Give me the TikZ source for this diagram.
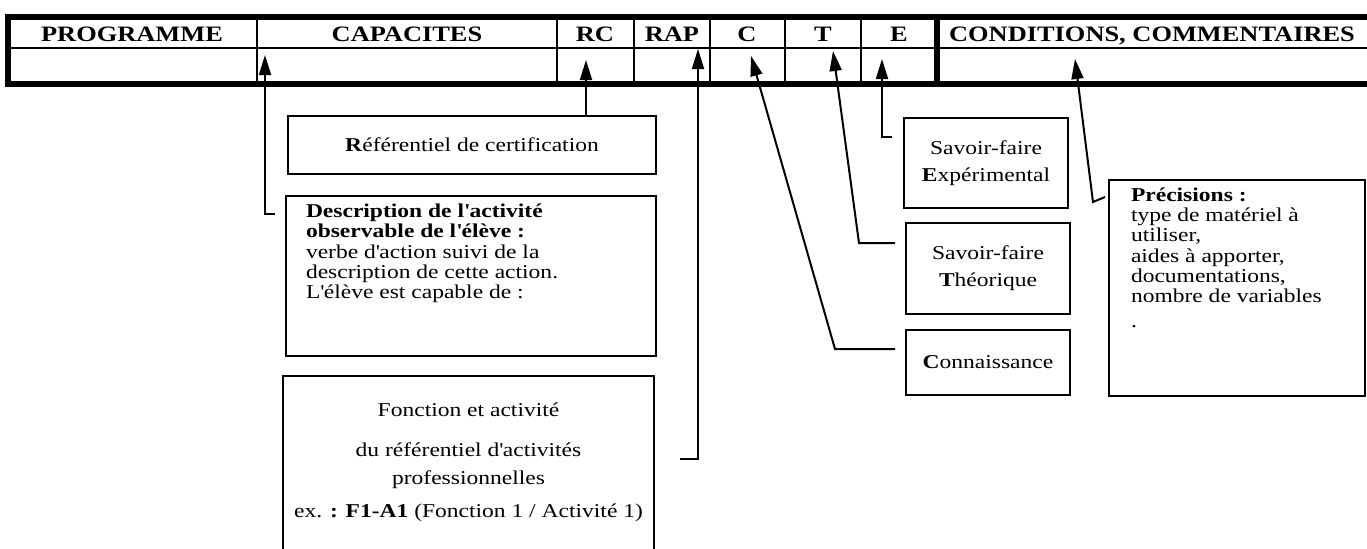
\documentclass[tikz,border=0pt]{standalone}
\usepackage{fontspec}
\setmainfont{Liberation Serif}[FakeStretch=1.2]
\usetikzlibrary{arrows.meta,calc}
\newcommand{\apo}{\textquotesingle}
\newcommand{\bodysize}{\fontsize{9.8}{10.15}\selectfont\lineskiplimit=-5pt}

\begin{document}
\begin{tikzpicture}[x=0.5pt,y=-0.5pt,>={Triangle[length=10pt,width=6pt]}]
    \tikzstyle{box}=[draw,line width=1pt,inner sep=0pt,font=\bodysize]
    \tikzstyle{two lines}=[box,align=center,font=\fontsize{9.8}{13.5}\selectfont]
    \tikzstyle{head}=[anchor=base,font=\fontsize{11}{12}\selectfont\bfseries]
    \tikzstyle{link}=[->,line width=1pt]
    \tikzstyle{rule}=[line width=1pt]
    \tikzstyle{heavy rule}=[line width=3pt]
    \useasboundingbox (0,0) rectangle (1367,548);
    % The table header
    \draw[heavy rule] (5,17) -- (1367,17);
    \draw[rule] (8,48) -- (1367,48);
    \draw[heavy rule] (5,84) -- (1367,84);
    \draw[heavy rule] (8,17) -- (8,84);
    \foreach \x in {257,557,634,710,785,861}
        \draw[rule] (\x,17) -- (\x,84);
    \draw[heavy rule] (937,17) -- (937,84);
    \foreach \name/\x/\lbl in {hProg/132/PROGRAMME,hCap/407/CAPACITES,hRc/595/RC,hRap/672/RAP,
        hC/747/C,hT/823/T,hE/899/E,hCond/1152/{CONDITIONS, COMMENTAIRES}}
        \node[head] (\name) at (\x,41) {\lbl};
    % The explanation boxes
    \node[box,anchor=north west,minimum width=184pt,minimum height=29pt] (refCert) at (287,115)
        {\textbf{R}éférentiel de certification};
    \node[box,anchor=north west,inner xsep=10pt] (descAct) at (285,195)
        {\begin{minipage}[t][80pt][t]{165pt}\bodysize\vspace*{4pt}%
        \textbf{Description de l\apo activité}\\
        \textbf{observable de l\apo élève :}\\
        verbe d\apo action suivi de la\\
        description de cette action.\\
        L\apo élève est capable de :\end{minipage}};
    \node[box,anchor=north west] (foncAct) at (282,375)
        {\begin{minipage}[t][95pt][t]{185.5pt}\centering\fontsize{9.8}{14}\selectfont\vspace*{13.2pt}%
        Fonction et activité\\[6pt]
        du référentiel d\apo activités\\
        professionnelles\\[2.5pt]
        ex. \textbf{: F1-A1} (Fonction 1 / Activité 1)\end{minipage}};
    \node[two lines,anchor=north west,minimum width=82pt,minimum height=45pt] (savExp) at (903,117)
        {Savoir-faire\\\textbf{E}xpérimental};
    \node[two lines,anchor=north west,minimum width=82pt,minimum height=45.5pt] (savTheo) at (905,222)
        {Savoir-faire\\\textbf{T}héorique};
    \node[box,anchor=north west,minimum width=82pt,minimum height=32.5pt] (connais) at (905,329)
        {\textbf{C}onnaissance};
    \node[box,anchor=north west,inner xsep=11pt] (precis) at (1108,179)
        {\begin{minipage}[t][108pt][t]{106pt}\bodysize\vspace*{3.8pt}%
        \textbf{Précisions :}\\
        type de matériel à\\
        utiliser,\\
        aides à apporter,\\
        documentations,\\
        nombre de variables\\[2pt]
        .\end{minipage}};
    % Arrow tips and bends
    \coordinate (capTip) at (265,55);
    \coordinate (capBend) at (265,214);
    \coordinate (rcTip) at (586,60);
    \coordinate (rapTip) at (698,49);
    \coordinate (rapBend) at (698,459);
    \coordinate (cTip) at (751,56);
    \coordinate (cBend) at (835,349);
    \coordinate (tTip) at (833,51);
    \coordinate (tBend) at (859,243);
    \coordinate (eTip) at (882,59);
    \coordinate (eBend) at (882,137);
    \coordinate (condTip) at (1075,59);
    \coordinate (condBend) at (1093,202);
    % The connectors
    \draw[link,shorten <=5pt] (descAct.west |- capBend) -- (capBend) -- (capTip);
    \draw[link] (refCert.north -| rcTip) -- (rcTip);
    \draw[link,shorten <=12.5pt] (foncAct.east |- rapBend) -- (rapBend) -- (rapTip);
    \draw[link,shorten <=5pt] (connais.west |- cBend) -- (cBend) -- (cTip);
    \draw[link,shorten <=5pt] (savTheo.west |- tBend) -- (tBend) -- (tTip);
    \draw[link,shorten <=5.5pt] (savExp.west |- eBend) -- (eBend) -- (eTip);
    \draw[link] ($(precis.north west)+(-3,18)$) -- (condBend) -- (condTip);
\end{tikzpicture}
\end{document}
